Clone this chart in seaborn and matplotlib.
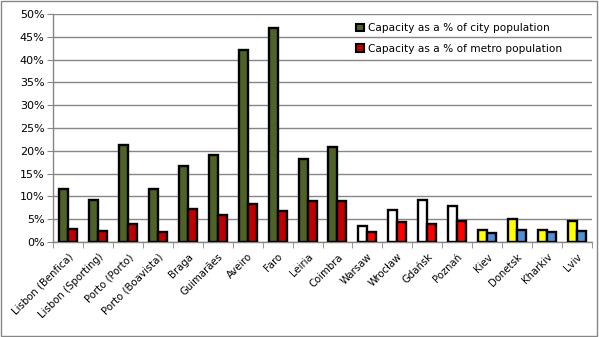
import matplotlib
matplotlib.use("Agg")
import matplotlib.pyplot as plt
import seaborn as sns
import pandas as pd
from matplotlib.patches import Patch, Rectangle
from matplotlib.ticker import FuncFormatter, MultipleLocator, FixedLocator

cities = ["Lisbon (Benfica)", "Lisbon (Sporting)", "Porto (Porto)", "Porto (Boavista)",
          "Braga", "Guimarães", "Aveiro", "Faro", "Leiria", "Coimbra",
          "Warsaw", "Wrocław", "Gdańsk", "Poznań", "Kiev", "Donetsk", "Kharkiv", "Lviv"]
city_pct = [11.7, 9.15, 21.2, 11.7, 16.6, 19.0, 42.1, 46.9, 18.2, 20.9,
            3.4, 7.0, 9.15, 7.8, 2.6, 5.1, 2.6, 4.6]
metro_pct = [2.9, 2.4, 3.9, 2.1, 7.3, 5.9, 8.3, 6.7, 8.9, 8.9,
             2.2, 4.4, 3.9, 4.6, 2.0, 2.6, 2.2, 2.4]
series = ["Capacity as a % of city population", "Capacity as a % of metro population"]

city_colors = ["#4F6228"] * 10 + ["#FFFFFF"] * 4 + ["#FFFF00"] * 4
metro_colors = ["#C00000"] * 10 + ["#FF0000"] * 4 + ["#558ED5"] * 4

df = pd.DataFrame({
    "city": cities * 2,
    "value": city_pct + metro_pct,
    "series": [series[0]] * len(cities) + [series[1]] * len(cities),
})

fig = plt.figure(figsize=(5.99, 3.37), dpi=100)
ax = fig.add_axes([53 / 599, 1 - 242 / 337, (592 - 53) / 599, (242 - 14) / 337])

sns.barplot(data=df, x="city", y="value", hue="series", order=cities, hue_order=series,
            palette=["#4F6228", "#C00000"], width=0.6, gap=0, legend=False,
            edgecolor="black", linewidth=1.5, saturation=1, ax=ax, errorbar=None)

for cont, cols in zip(ax.containers, [city_colors, metro_colors]):
    for bar, c in zip(cont, cols):
        bar.set_facecolor(c)
        bar.set_edgecolor("black")
        bar.set_linewidth(1.7)
        bar.set_zorder(3)

ax.set_ylim(0, 50)
ax.set_xlim(-0.5, len(cities) - 0.5)
ax.yaxis.set_major_locator(MultipleLocator(5))
ax.yaxis.set_major_formatter(FuncFormatter(lambda v, p: f"{v:.0f}%"))
ax.grid(axis="y", color="#868686", linewidth=1, zorder=0)
ax.set_axisbelow(True)
ax.set_xlabel("")
ax.set_ylabel("")

for s in ["top", "right"]:
    ax.spines[s].set_visible(False)
for s in ["left", "bottom"]:
    ax.spines[s].set_color("#868686")
    ax.spines[s].set_linewidth(1)

ax.tick_params(axis="y", length=4, color="#868686", labelsize=8, pad=2, direction="out")
ax.tick_params(axis="x", which="major", length=0, labelsize=7.3, pad=7)
ax.xaxis.set_minor_locator(FixedLocator([i - 0.5 for i in range(len(cities) + 1)]))
ax.tick_params(axis="x", which="minor", length=4, color="#868686", direction="out")
plt.setp(ax.get_xticklabels(), rotation=45, ha="right", rotation_mode="anchor")
for lbl in ax.get_xticklabels():
    lbl.set_x(lbl.get_position()[0])

handles = [Patch(facecolor="#4F6228", edgecolor="black", linewidth=1.5),
           Patch(facecolor="#C00000", edgecolor="black", linewidth=1.5)]
fig.legend(handles, series, loc="upper left", bbox_to_anchor=(352 / 599, 1 - 19 / 337),
           frameon=False, fontsize=7.6, handlelength=0.7, handleheight=0.7,
           handletextpad=0.45, labelspacing=1.0, borderaxespad=0)

fig.patches.append(Rectangle((0.002, 0.003), 0.995, 0.993, transform=fig.transFigure,
                             fill=False, edgecolor="#868686", linewidth=1))

fig.savefig("out.png", dpi=100)
